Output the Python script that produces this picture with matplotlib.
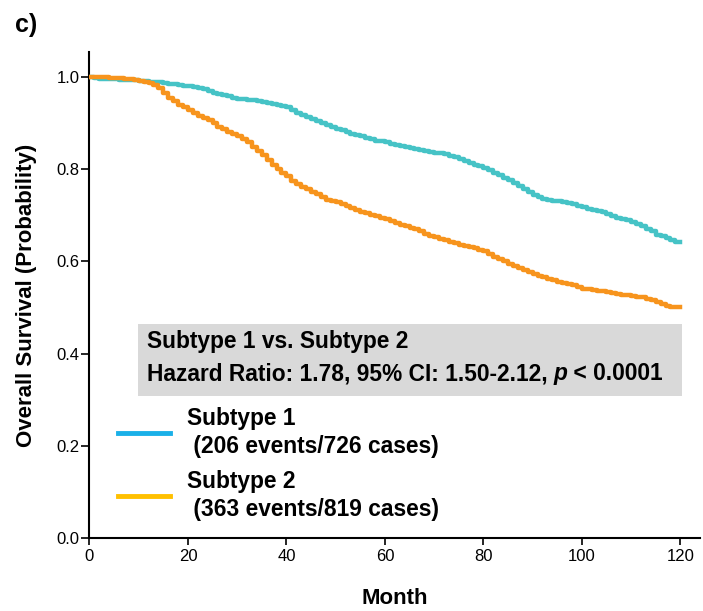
import matplotlib
matplotlib.use('Agg')
import matplotlib.pyplot as plt
from matplotlib.lines import Line2D
from matplotlib.patches import Rectangle

plt.rcParams['font.family'] = ['Liberation Sans', 'DejaVu Sans']

# Kaplan-Meier estimates, one value per month (0-120)
months = list(range(0, 121))
surv_1 = [1.000, 0.997, 0.996, 0.996, 0.995, 0.995, 0.994, 0.994, 0.993, 0.993,
          0.992, 0.991, 0.990, 0.989, 0.988, 0.987, 0.985, 0.984, 0.983, 0.981,
          0.980, 0.978, 0.976, 0.973, 0.970, 0.966, 0.963, 0.961, 0.958, 0.955,
          0.953, 0.952, 0.950, 0.949, 0.947, 0.945, 0.943, 0.941, 0.939, 0.937,
          0.935, 0.928, 0.922, 0.918, 0.914, 0.909, 0.905, 0.900, 0.896, 0.892,
          0.888, 0.884, 0.880, 0.877, 0.874, 0.871, 0.868, 0.865, 0.862, 0.860,
          0.858, 0.855, 0.852, 0.850, 0.848, 0.846, 0.844, 0.842, 0.840, 0.838,
          0.836, 0.834, 0.832, 0.829, 0.826, 0.822, 0.818, 0.814, 0.810, 0.806,
          0.802, 0.797, 0.792, 0.787, 0.781, 0.776, 0.770, 0.764, 0.757, 0.750,
          0.744, 0.739, 0.736, 0.733, 0.731, 0.730, 0.728, 0.726, 0.724, 0.720,
          0.717, 0.714, 0.711, 0.709, 0.706, 0.702, 0.698, 0.695, 0.692, 0.689,
          0.686, 0.682, 0.677, 0.671, 0.665, 0.658, 0.655, 0.650, 0.646, 0.643,
          0.641]
surv_2 = [1.000, 1.000, 0.999, 0.999, 0.998, 0.998, 0.997, 0.996, 0.995, 0.994,
          0.992, 0.990, 0.987, 0.982, 0.975, 0.965, 0.955, 0.947, 0.940, 0.934,
          0.928, 0.922, 0.916, 0.911, 0.906, 0.899, 0.892, 0.886, 0.881, 0.876,
          0.872, 0.865, 0.858, 0.849, 0.840, 0.830, 0.820, 0.810, 0.800, 0.792,
          0.784, 0.775, 0.767, 0.761, 0.756, 0.750, 0.745, 0.739, 0.734, 0.731,
          0.728, 0.724, 0.720, 0.716, 0.712, 0.708, 0.705, 0.701, 0.698, 0.695,
          0.692, 0.687, 0.683, 0.679, 0.676, 0.673, 0.670, 0.665, 0.660, 0.656,
          0.652, 0.649, 0.646, 0.643, 0.640, 0.636, 0.633, 0.630, 0.628, 0.625,
          0.622, 0.616, 0.610, 0.605, 0.600, 0.595, 0.590, 0.585, 0.581, 0.577,
          0.573, 0.569, 0.566, 0.562, 0.559, 0.556, 0.553, 0.550, 0.548, 0.544,
          0.541, 0.539, 0.537, 0.536, 0.535, 0.533, 0.531, 0.529, 0.528, 0.526,
          0.525, 0.523, 0.522, 0.519, 0.516, 0.512, 0.508, 0.504, 0.501, 0.500,
          0.500]

labels = ['Subtype 1\n (206 events/726 cases)', 'Subtype 2\n (363 events/819 cases)']
line_colors = ['#46C3C6', '#F7941D']
legend_colors = ['#1AB0E8', '#FFC000']

x_ticks = [0, 20, 40, 60, 80, 100, 120]
y_ticks = [0.0, 0.2, 0.4, 0.6, 0.8, 1.0]

fig = plt.figure(figsize=(7.03, 6.11), dpi=100)
ax = fig.add_axes([0.1273, 0.1195, 0.8684, 0.7954])

ax.plot(months, surv_1, drawstyle='steps-post', color=line_colors[0], lw=3.2, zorder=3)
ax.plot(months, surv_2, drawstyle='steps-post', color=line_colors[1], lw=3.2, zorder=4)

ax.set_xlim(0, 124)
ax.set_ylim(0, 1.054)
ax.set_xticks(x_ticks)
ax.set_yticks(y_ticks)
ax.set_yticklabels([f'{v:.1f}' for v in y_ticks])
ax.tick_params(axis='x', length=5, width=1.2, pad=3, labelsize=12)
ax.tick_params(axis='y', length=6, width=1.2, pad=1, labelsize=12)
for side in ['top', 'right']:
    ax.spines[side].set_visible(False)
for side in ['left', 'bottom']:
    ax.spines[side].set_linewidth(1.5)

ax.set_xlabel('Month', fontsize=16, fontweight='bold', labelpad=17)
ax.set_ylabel('Overall Survival (Probability)', fontsize=16, fontweight='bold', labelpad=14)

# hazard ratio box
fs = 16.4
ax.add_patch(Rectangle((9.85, 0.308), 110.5, 0.156, facecolor='#D9D9D9',
                       edgecolor='none', zorder=2))
ax.text(11.6, 0.427, 'Subtype 1 vs. Subtype 2', fontsize=fs, fontweight='bold',
        va='center', zorder=5)
t1 = ax.text(11.6, 0.356, 'Hazard Ratio: 1.78, 95% CI: 1.50-2.12, ', fontsize=fs,
             fontweight='bold', va='center', zorder=5)
t2 = ax.annotate('p', xy=(1, 0), xycoords=t1, fontsize=fs, fontweight='bold',
                 fontstyle='italic', va='bottom', ha='left', zorder=5)
ax.annotate(' < 0.0001', xy=(1, 0), xycoords=t2, fontsize=fs, fontweight='bold',
            va='bottom', ha='left', zorder=5)

handles = [Line2D([], [], color=c, lw=3.5) for c in legend_colors]
leg = ax.legend(handles, labels, loc='upper left', bbox_to_anchor=(0.0467, 0.270),
                frameon=False, fontsize=fs, handlelength=2.3, handletextpad=0.72,
                borderpad=0, borderaxespad=0, labelspacing=0.5)
for t in leg.get_texts():
    t.set_fontweight('bold')
    t.set_linespacing(1.3)

fig.text(0.021, 0.979, 'c)', fontsize=18, fontweight='bold', va='top')

fig.savefig('out.png', dpi=100)
